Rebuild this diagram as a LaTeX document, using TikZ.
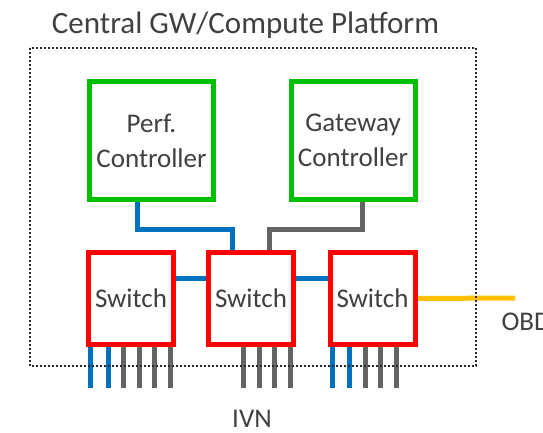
\documentclass[tikz,border=0pt]{standalone}
\usepackage{fontspec}
\setmainfont{Carlito}
\usetikzlibrary{backgrounds}
\definecolor{txtgray}{HTML}{404040}
\definecolor{ctrlgreen}{HTML}{00C000}
\definecolor{swred}{HTML}{FF0000}
\definecolor{ethblue}{HTML}{0070C0}
\definecolor{wiregray}{HTML}{646464}
\definecolor{obdyellow}{HTML}{FFC000}
\begin{document}
\begin{tikzpicture}[x=1pt,y=-1pt,
  every node/.style={text=txtgray,font=\fontsize{27}{35}\selectfont},
  ctrl/.style={draw=ctrlgreen,line width=5pt,fill=white,minimum width=124pt,minimum height=118pt,align=center},
  swbox/.style={draw=swred,line width=5pt,fill=white,minimum width=85pt,minimum height=92pt,inner sep=0pt},
  wire/.style={line width=5pt}]
\useasboundingbox (0,0) rectangle (543,433);

\draw[dotted,line width=2pt,black!85] (30,48) rectangle (476,366);
\node[font=\fontsize{31}{35}\selectfont] (title) at (245.5,25) {Central GW/Compute Platform};

\node[ctrl] (perf) at (151.5,140.5) {Perf.\\Controller};
\node[ctrl] (gw) at (353,140.5) {Gateway\\Controller};

\node[swbox] (sw1) at (131,298.5) {Switch};
\node[swbox] (sw2) at (251,298.5) {Switch};
\node[swbox] (sw3) at (372.5,298.5) {Switch};

\coordinate (obd) at (515,298);

\begin{scope}[on background layer]
\draw[wire,ethblue] ([xshift=-14.5pt]perf.south) -- ++(0,27) -| ([xshift=-19pt,yshift=-6pt]sw2.north);
\draw[wire,wiregray] ([xshift=9pt]gw.south) -- ++(0,27) -| ([xshift=18pt,yshift=-6pt]sw2.north);
\draw[wire,ethblue] ([yshift=20.5pt]sw1.east) -- ([yshift=20.5pt]sw2.west);
\draw[wire,ethblue] ([yshift=20.5pt]sw2.east) -- ([yshift=20.5pt]sw3.west);
\draw[wire,obdyellow] (sw3.east) -- (obd);
% IVN stubs
\foreach \dx/\col in {-41/ethblue,-23/ethblue,-8/wiregray,8/wiregray,23/wiregray,39/wiregray}
  \draw[wire,\col] ([xshift=\dx pt]sw1.south) -- ++(0,41);
\foreach \dx in {-8,8,23,39}
  \draw[wire,wiregray] ([xshift=\dx pt]sw2.south) -- ++(0,41);
\foreach \dx/\col in {-40.5/ethblue,-23.5/ethblue,-7.5/wiregray,7.5/wiregray,23.5/wiregray}
  \draw[wire,\col] ([xshift=\dx pt]sw3.south) -- ++(0,41);
\end{scope}

\node[anchor=west] (obdlbl) at (498,322) {OBD};
\node (ivn) at (252,419) {IVN};
\end{tikzpicture}
\end{document}
